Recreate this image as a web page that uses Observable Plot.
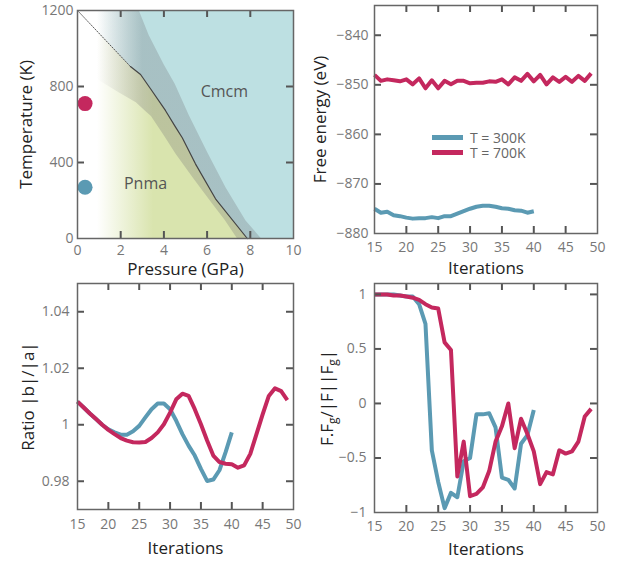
<!DOCTYPE html>
<html><head><meta charset="utf-8">
<script src="https://cdn.jsdelivr.net/npm/d3@7"></script>
<script src="https://cdn.jsdelivr.net/npm/@observablehq/plot@0.6"></script>
<style>
body{margin:0;background:#fff;}
#wrap{position:relative;width:618px;height:561px;font-family:"Open Sans",sans-serif;overflow:hidden;}
#wrap svg{position:absolute;}
.legend{position:absolute;left:432px;top:130px;font-family:"Open Sans",sans-serif;font-size:14px;color:#666;}
.legend div{display:flex;align-items:center;height:15px;line-height:12px;}
.legend span.bar{display:inline-block;width:31px;height:5px;margin-right:7px;}
</style></head><body><div id="wrap"></div>
<script>
// ---------- data ----------
const blue = "#5b9ab3", magenta = "#c4285e";
const seriesNames = ["T = 300K", "T = 700K"];
const seriesColors = [blue, magenta];

const iter300 = [15,16,17,18,19,20,21,22,23,24,25,26,27,28,29,30,31,32,33,34,35,36,37,38,39,40];
const iter700 = [15,16,17,18,19,20,21,22,23,24,25,26,27,28,29,30,31,32,33,34,35,36,37,38,39,40,41,42,43,44,45,46,47,48,49];

const freeEnergy300 = [-875.0,-875.8,-875.6,-876.3,-876.5,-876.8,-877.0,-876.9,-876.9,-876.7,-876.9,-876.5,-876.5,-876.0,-875.5,-875.0,-874.6,-874.4,-874.4,-874.6,-874.9,-875.0,-875.3,-875.4,-875.8,-875.5];
const freeEnergy700 = [-848.0,-849.2,-848.9,-849.1,-849.3,-848.9,-849.9,-848.7,-850.7,-849.1,-850.7,-849.2,-849.9,-849.2,-849.2,-849.7,-849.6,-849.6,-849.3,-849.4,-848.9,-849.9,-848.5,-849.2,-847.8,-849.3,-848.0,-849.9,-848.5,-849.4,-848.4,-849.4,-848.2,-849.2,-847.7];

const ratio300 = [1.0082,1.0061,1.0040,1.0020,1.0000,0.9984,0.9973,0.9965,0.9965,0.9977,0.9996,1.0026,1.0055,1.0075,1.0075,1.0055,1.0014,0.9967,0.9926,0.9891,0.9844,0.9801,0.9806,0.9839,0.9903,0.9973];
const ratio700 = [1.0082,1.0061,1.0040,1.0020,1.0000,0.9982,0.9967,0.9953,0.9944,0.9938,0.9937,0.9939,0.9953,0.9973,1.0002,1.0043,1.0090,1.0110,1.0102,1.0055,1.0002,0.9944,0.9891,0.9868,0.9862,0.9860,0.9848,0.9856,0.9897,0.9967,1.0037,1.0102,1.0129,1.0119,1.0087];

const cos300 = [1.0,1.0,1.0,1.0,0.99,0.98,0.98,0.91,0.73,-0.43,-0.72,-0.96,-0.82,-0.86,-0.53,-0.50,-0.10,-0.10,-0.09,-0.22,-0.68,-0.70,-0.78,-0.37,-0.29,-0.06];
const cos700 = [1.0,1.0,1.0,0.99,0.99,0.98,0.97,0.95,0.91,0.88,0.87,0.56,0.49,-0.67,-0.35,-0.85,-0.83,-0.77,-0.62,-0.35,-0.21,0.0,-0.41,-0.14,-0.28,-0.44,-0.74,-0.63,-0.65,-0.43,-0.46,-0.44,-0.35,-0.12,-0.05];

// phase diagram: [pressure GPa, temperature K]
const centerLine = [[0,1200],[2.45,905],[2.92,863],[3.38,788],[4.07,674],[4.54,586],[4.85,530],[5.46,393],[6.39,209],[7.86,0]];
const cmcmEdge = [[2.84,1200],[3.3,1070],[4.0,915],[4.5,815],[5.15,650],[6.0,455],[6.85,270],[7.78,95],[8.5,0]];
const pnmaEdge = [[0,880],[0.9,840],[1.9,770],[2.7,717],[3.15,670],[3.4,645],[4.0,542],[4.54,446],[5.4,310],[6.24,183],[6.8,100],[7.39,0]];
const statePressure = [0.35, 0.35];
const stateTemperature = [710, 270];
const regionNames = ["Cmcm", "Pnma"];
const regionPressure = [6.8, 3.15];
const regionTemperature = [770, 290];

const pTicks = [0,2,4,6,8,10];
const tTicks = [0,400,800,1200];
const iterTicks = [15,20,25,30,35,40,45,50];
const feTicks = [-880,-870,-860,-850,-840];
const ratioTicks = [0.98,1,1.02,1.04];
const cosTicks = [-1,-0.5,0,0.5,1];

// ---------- helpers ----------
const fmt = d3.format("");
const wrap = document.getElementById("wrap");
const zip = (xs, ys) => xs.map((x, i) => ({x, y: ys[i]}));

function panel(o) {
  const innerW = o.width - o.ml - o.mr, innerH = o.height - o.mt - o.mb;
  const xIn = o.xTicks.filter(t => t > o.xDomain[0] && t < o.xDomain[1]);
  const yIn = o.yTicks.filter(t => t > o.yDomain[0] && t < o.yDomain[1]);
  const tick = {stroke: "#555", strokeWidth: 2};
  const svg = Plot.plot({
    width: o.width, height: o.height,
    marginLeft: o.ml, marginRight: o.mr, marginTop: o.mt, marginBottom: o.mb,
    x: {domain: o.xDomain}, y: {domain: o.yDomain},
    style: {fontFamily: "'Open Sans', sans-serif", fontSize: "14px", color: "#777", background: "transparent"},
    marks: [
      ...o.marks,
      Plot.ruleX(xIn, {x: d => d, insetTop: innerH - 7, ...tick}),
      Plot.ruleX(xIn, {x: d => d, insetBottom: innerH - 7, ...tick}),
      Plot.ruleY(yIn, {y: d => d, insetRight: innerW - 7, ...tick}),
      Plot.ruleY(yIn, {y: d => d, insetLeft: innerW - 7, ...tick}),
      Plot.frame({stroke: "#666", strokeWidth: 1.5}),
      Plot.axisX({ticks: o.xTicks, tickSize: 0, tickPadding: o.xPad, tickFormat: fmt, label: null}),
      Plot.axisY({ticks: o.yTicks, tickSize: 0, tickPadding: o.yPad, tickFormat: fmt, label: null}),
      Plot.text([o.xLabel], {text: d => d, frameAnchor: "bottom", dy: o.xLabelDy, lineAnchor: "middle", textAnchor: "middle", fill: "#222", fontSize: 17}),
      Plot.text([o.yLabel], {text: d => d, frameAnchor: "left", dx: o.yLabelDx, rotate: -90, lineAnchor: "middle", textAnchor: "middle", fill: "#222", fontSize: 17})
    ]
  });
  svg.style.left = o.left + "px";
  svg.style.top = o.top + "px";
  wrap.appendChild(svg);
  return svg;
}

// ---------- panel 1: phase diagram ----------
const tealPoly = centerLine.concat([[10,0],[10,1200]]);
const pnmaPoly = centerLine.concat([[0,0]]);
const bandPoly = pnmaEdge.concat([...cmcmEdge].reverse(), [[0,1200]]);
const P = d => d[0], T = d => d[1];

const p1 = panel({
  left: 0, top: 0, width: 309, height: 280, ml: 77, mr: 16, mt: 10, mb: 42,
  xDomain: [0,10], yDomain: [0,1200], xTicks: pTicks, yTicks: tTicks,
  xPad: 7, yPad: 4, xLabel: "Pressure (GPa)", yLabel: "Temperature (K)", xLabelDy: 31, yLabelDx: -51,
  marks: [
    Plot.line(tealPoly, {x: P, y: T, fill: "url(#gTeal)", stroke: "none"}),
    Plot.line(pnmaPoly, {x: P, y: T, fill: "url(#gYellow)", stroke: "none"}),
    Plot.line(bandPoly, {x: P, y: T, fill: "url(#gGray)", stroke: "none"}),
    Plot.line(centerLine.slice(0, 2), {x: P, y: T, stroke: "#555", strokeWidth: 1, strokeDasharray: "1.2,1.6"}),
    Plot.line(centerLine.slice(1), {x: P, y: T, stroke: "#444", strokeWidth: 1.2}),
    Plot.dot(statePressure.map((p, i) => ({p, t: stateTemperature[i], c: seriesColors[1 - i]})), {x: "p", y: "t", r: 7.5, fill: d => d.c, stroke: "none"}),
    Plot.text(regionNames.map((n, i) => ({n, p: regionPressure[i], t: regionTemperature[i]})), {x: "p", y: "t", text: "n", fill: "#555", fontSize: 16})
  ]
});
{
  const xs = p1.scale("x");
  const defs = d3.select(p1).insert("defs", ":first-child");
  const grad = (id, color, a0, a1, x0, x1) => {
    const g = defs.append("linearGradient").attr("id", id).attr("gradientUnits", "userSpaceOnUse")
      .attr("x1", xs.apply(x0)).attr("x2", xs.apply(x1)).attr("y1", 0).attr("y2", 0);
    g.append("stop").attr("offset", 0).attr("stop-color", color).attr("stop-opacity", a0);
    g.append("stop").attr("offset", 1).attr("stop-color", color).attr("stop-opacity", a1);
  };
  grad("gTeal", "#bde0e2", 0, 1, 0.9, 3.0);
  grad("gYellow", "#d9e4ae", 0, 1, 0.9, 3.5);
  grad("gGray", "#6d6c72", 0, 0.27, 0.9, 3.0);
}

// ---------- panel 2: free energy ----------
const lineOpts = {x: "x", y: "y", strokeWidth: 4, strokeLinejoin: "round", strokeLinecap: "butt"};
panel({
  left: 309, top: 0, width: 309, height: 280, ml: 65, mr: 21, mt: 5, mb: 47,
  xDomain: [15,50], yDomain: [-880,-834], xTicks: iterTicks, yTicks: feTicks,
  xPad: 9, yPad: 6, xLabel: "Iterations", yLabel: "Free energy (eV)", xLabelDy: 35, yLabelDx: -54,
  marks: [
    Plot.line(zip(iter300, freeEnergy300), {...lineOpts, stroke: blue}),
    Plot.line(zip(iter700, freeEnergy700), {...lineOpts, stroke: magenta})
  ]
});
const leg = document.createElement("div");
leg.className = "legend";
leg.innerHTML = seriesNames.map((n, i) => `<div><span class="bar" style="background:${seriesColors[i]}"></span>${n}</div>`).join("");
wrap.appendChild(leg);

// ---------- panel 3: ratio ----------
panel({
  left: 0, top: 280, width: 309, height: 281, ml: 77, mr: 16, mt: 3, mb: 52,
  xDomain: [15,50], yDomain: [0.97,1.05], xTicks: iterTicks, yTicks: ratioTicks,
  xPad: 10, yPad: 8, xLabel: "Iterations", yLabel: "Ratio |b|/|a|", xLabelDy: 39, yLabelDx: -49,
  marks: [
    Plot.line(zip(iter300, ratio300), {...lineOpts, stroke: blue}),
    Plot.line(zip(iter700, ratio700), {...lineOpts, stroke: magenta})
  ]
});

// ---------- panel 4: force alignment ----------
const p4 = panel({
  left: 309, top: 280, width: 309, height: 281, ml: 65, mr: 21, mt: 3, mb: 49,
  xDomain: [15,50], yDomain: [-1,1.1], xTicks: iterTicks, yTicks: cosTicks,
  xPad: 9, yPad: 8, xLabel: "Iterations", yLabel: "FFGLABEL", xLabelDy: 37, yLabelDx: -47,
  marks: [
    Plot.line(zip(iter300, cos300), {...lineOpts, stroke: blue}),
    Plot.line(zip(iter700, cos700), {...lineOpts, stroke: magenta})
  ]
});
d3.select(p4).selectAll("text").filter(function() { return this.textContent === "FFGLABEL"; }).each(function() {
  const t = d3.select(this).text(null);
  [["F.F", 0], ["g", 1], ["/|F||F", 0], ["g", 1], ["|", 0]].forEach(([s, sub]) => {
    const ts = t.append("tspan").text(s);
    if (sub) ts.attr("dy", 4).attr("font-size", "12px");
    else if (s !== "F.F") ts.attr("dy", -4);
  });
});
</script></body></html>
